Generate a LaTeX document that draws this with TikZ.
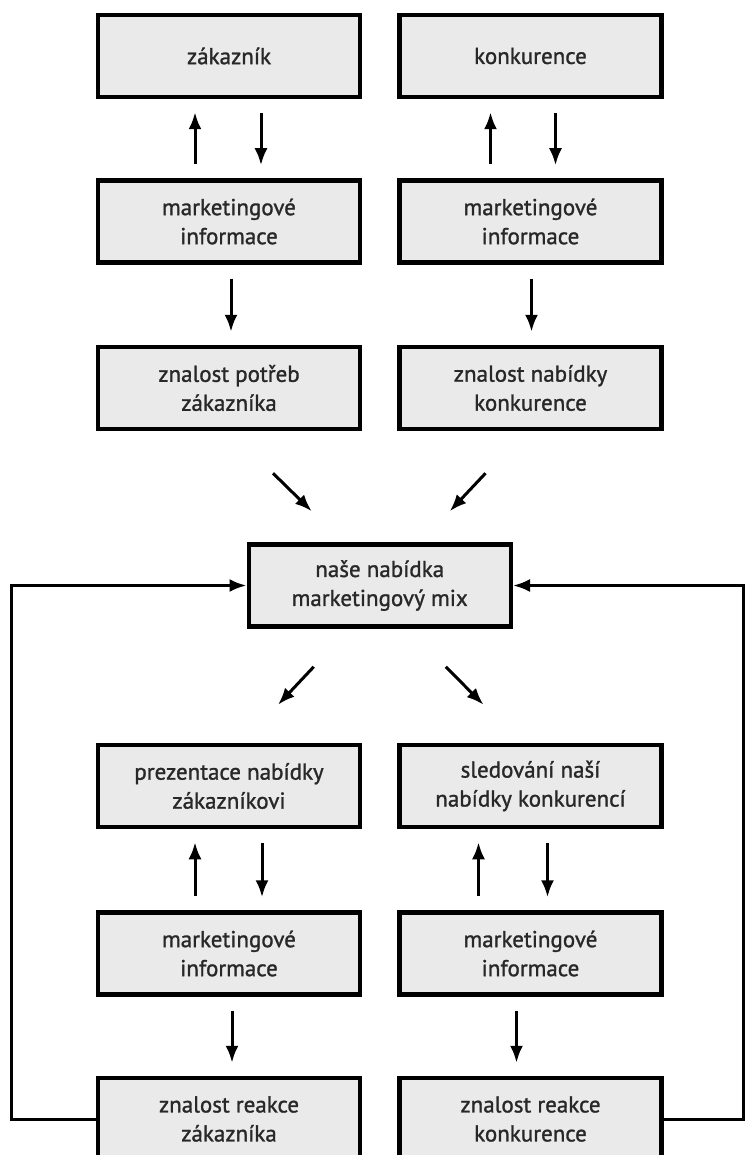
\documentclass[tikz,border=0pt]{standalone}
\usepackage{fontspec}
\setmainfont{PT Sans}
\newfontfamily\boxfont{PT Sans}[FakeBold=1.2]
\usepackage{tikz}
\usetikzlibrary{arrows.meta,positioning}
\definecolor{boxfill}{RGB}{234,234,234}
\definecolor{boxtext}{RGB}{40,40,40}
\tikzset
{
    infobox/.style = {draw=black, line width=4.5pt, fill=boxfill, text=boxtext, align=center, minimum width=262pt, minimum height=82pt, inner sep=0pt, font=\boxfont\fontsize{23}{29}\selectfont},
    flow/.style    = {-{Latex[length=17pt,width=13pt]}, line width=3pt},
    gap/.style     = {flow, shorten <=14pt, shorten >=13pt}
}

\begin{document}
\begin{tikzpicture}
    \useasboundingbox (0,0) rectangle (744pt,-1155pt);

    \node [infobox] (zak) at (229pt,-56pt) {zákazník};
    \node [infobox, right=35pt of zak] (konk) {konkurence};
    \node [infobox, below=79pt of zak] (mi1) {marketingové\\informace};
    \node [infobox, below=79pt of konk] (mi2) {marketingové\\informace};
    \node [infobox, below=80pt of mi1] (zpz) {znalost potřeb\\zákazníka};
    \node [infobox, below=80pt of mi2] (znk) {znalost nabídky\\konkurence};

    \path (zpz.south) -- (znk.south) coordinate[pos=0.5] (midrow);
    \node [infobox, below=111pt of midrow] (mix) {naše nabídka\\marketingový mix};

    \coordinate (lowrow) at ([yshift=-114pt]mix.south);
    \node [infobox, anchor=north] (prez) at (lowrow -| zpz) {prezentace nabídky\\zákazníkovi};
    \node [infobox, right=35pt of prez] (sled) {sledování naší\\nabídky konkurencí};
    \node [infobox, below=81pt of prez] (mi3) {marketingové\\informace};
    \node [infobox, below=81pt of sled] (mi4) {marketingové\\informace};
    \node [infobox, below=79pt of mi3] (zrz) {znalost reakce\\zákazníka};
    \node [infobox, below=79pt of mi4] (zrk) {znalost reakce\\konkurence};

    \draw [gap] ([xshift=-34pt]mi1.north) -- ([xshift=-34pt]zak.south);
    \draw [gap] ([xshift=32pt]zak.south) -- ([xshift=32pt]mi1.north);
    \draw [gap] ([xshift=-40pt]mi2.north) -- ([xshift=-40pt]konk.south);
    \draw [gap] ([xshift=25pt]konk.south) -- ([xshift=25pt]mi2.north);
    \draw [gap] ([xshift=2pt]mi1.south) -- ([xshift=2pt]zpz.north);
    \draw [gap] ([xshift=1pt]mi2.south) -- ([xshift=1pt]znk.north);

    \draw [flow] ([shift={(44pt,-42pt)}]zpz.south) -- ([shift={(-68pt,31pt)}]mix.north);
    \draw [flow] ([shift={(-45pt,-42pt)}]znk.south) -- ([shift={(70pt,31pt)}]mix.north);
    \draw [flow] ([shift={(-66pt,-38pt)}]mix.south) -- ([shift={(49pt,38pt)}]prez.north);
    \draw [flow] ([shift={(66pt,-38pt)}]mix.south) -- ([shift={(-47pt,38pt)}]sled.north);

    \draw [gap] ([xshift=-34pt]mi3.north) -- ([xshift=-34pt]prez.south);
    \draw [gap] ([xshift=33pt]prez.south) -- ([xshift=33pt]mi3.north);
    \draw [gap] ([xshift=-52pt]mi4.north) -- ([xshift=-52pt]sled.south);
    \draw [gap] ([xshift=17pt]sled.south) -- ([xshift=17pt]mi4.north);
    \draw [gap] ([xshift=3pt]mi3.south) -- ([xshift=3pt]zrz.north);
    \draw [gap] ([xshift=-14pt]mi4.south) -- ([xshift=-14pt]zrk.north);

    \draw [flow] (zrz.west) -- ++(-84pt,0) |- (mix.west);
    \draw [flow] (zrk.east) -- ++(80pt,0) |- (mix.east);
\end{tikzpicture}
\end{document}
